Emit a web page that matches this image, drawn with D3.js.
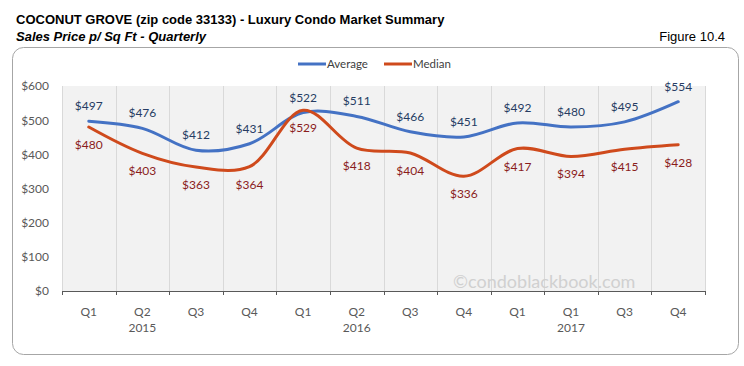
<!DOCTYPE html>
<html>
<head>
<meta charset="utf-8">
<script src="https://cdn.jsdelivr.net/npm/d3@7"></script>
<style>
  body { margin: 0; background: #fff; }
  svg { display: block; }
</style>
</head>
<body>
<div id="chart"></div>
<script>
// quarters as printed on the original chart (yes, 2017 has Q1 twice)
var quarters = ['Q1', 'Q2', 'Q3', 'Q4', 'Q1', 'Q2', 'Q3', 'Q4', 'Q1', 'Q1', 'Q3', 'Q4'];
var years = ['2015', '2016', '2017'];
var average = [497, 476, 412, 431, 522, 511, 466, 451, 492, 480, 495, 554];
var median = [480, 403, 363, 364, 529, 418, 404, 336, 417, 394, 415, 428];
var yTicks = [0, 100, 200, 300, 400, 500, 600];

var W = 744, H = 366;
var margin = {top: 86, left: 62, right: 39, bottom: 75};
var width = W - margin.left - margin.right,
    height = H - margin.top - margin.bottom;

var labelFont = 'Lato, "Open Sans", sans-serif';

var svg = d3.select('#chart').append('svg')
    .attr('width', W)
    .attr('height', H);

// titles
svg.append('text')
    .attr('x', 16).attr('y', 24)
    .style('font', 'bold 13px "Liberation Sans", Arial, sans-serif')
    .attr('fill', '#000')
    .text('COCONUT GROVE (zip code 33133) - Luxury Condo Market Summary');

svg.append('text')
    .attr('x', 16).attr('y', 41)
    .style('font', 'italic bold 13px "Liberation Sans", Arial, sans-serif')
    .attr('fill', '#000')
    .text('Sales Price p/ Sq Ft - Quarterly');

svg.append('text')
    .attr('x', 725).attr('y', 41)
    .attr('text-anchor', 'end')
    .style('font', '13px "Liberation Sans", Arial, sans-serif')
    .attr('fill', '#000')
    .text('Figure 10.4');

// chart frame
svg.append('rect')
    .attr('x', 12.5).attr('y', 47.5)
    .attr('width', 726).attr('height', 307)
    .attr('rx', 11).attr('ry', 11)
    .attr('fill', '#fff')
    .attr('stroke', '#a6a6a6');

var g = svg.append('g')
    .attr('transform', 'translate(' + margin.left + ',' + margin.top + ')');

var x = d3.scaleBand()
    .domain(d3.range(quarters.length))
    .range([0, width])
    .paddingInner(0).paddingOuter(0);

var y = d3.scaleLinear()
    .domain([0, 600])
    .range([height, 0]);

// plot area
g.append('rect')
    .attr('width', width).attr('height', height)
    .attr('fill', '#f2f2f2');

// vertical grid at category boundaries
g.selectAll('.vgrid')
    .data(d3.range(quarters.length + 1))
  .enter().append('line')
    .attr('class', 'vgrid')
    .attr('x1', function(d) { return Math.round(d * x.step()) + 0.5; })
    .attr('x2', function(d) { return Math.round(d * x.step()) + 0.5; })
    .attr('y1', 0).attr('y2', height)
    .attr('stroke', '#d9d9d9');

// y axis labels
var yAxis = d3.axisLeft(y)
    .tickValues(yTicks)
    .tickSize(0)
    .tickPadding(13)
    .tickFormat(function(d) { return '$' + d; });

var yg = g.append('g').call(yAxis);
yg.select('.domain').remove();
yg.selectAll('text')
    .style('font', '12px ' + labelFont)
    .attr('fill', '#595959');

// watermark
g.append('text')
    .attr('x', x(9))
    .attr('y', height - 3)
    .attr('text-anchor', 'middle')
    .style('font', '18px ' + labelFont)
    .attr('fill', '#d0d0d0')
    .text('©condoblackbook.com');

// x axis line + ticks
g.append('line')
    .attr('x1', 0).attr('x2', width)
    .attr('y1', height + 0.5).attr('y2', height + 0.5)
    .attr('stroke', '#595959');

g.selectAll('.xtick')
    .data(d3.range(quarters.length + 1))
  .enter().append('line')
    .attr('class', 'xtick')
    .attr('x1', function(d) { return Math.round(d * x.step()) + 0.5; })
    .attr('x2', function(d) { return Math.round(d * x.step()) + 0.5; })
    .attr('y1', height).attr('y2', height + 4)
    .attr('stroke', '#595959');

g.selectAll('.qlab')
    .data(quarters)
  .enter().append('text')
    .attr('class', 'qlab')
    .attr('x', function(d, i) { return x(i) + x.bandwidth() / 2; })
    .attr('y', height + 25)
    .attr('text-anchor', 'middle')
    .style('font', '12px ' + labelFont)
    .attr('fill', '#595959')
    .text(function(d) { return d; });

// years sit under the second quarter of each group, like excel did it
g.selectAll('.ylab')
    .data(years)
  .enter().append('text')
    .attr('class', 'ylab')
    .attr('x', function(d, i) { return x(i * 4 + 1) + x.bandwidth() / 2; })
    .attr('y', height + 41)
    .attr('text-anchor', 'middle')
    .style('font', '12px ' + labelFont)
    .attr('fill', '#595959')
    .text(function(d) { return d; });

var line = d3.line()
    .x(function(d, i) { return x(i) + x.bandwidth() / 2; })
    .y(function(d) { return y(d); })
    .curve(d3.curveCatmullRom.alpha(0.5));

var series = [
  {name: 'Average', values: average, color: '#4472c4', text: '#263c63', dy: -11},
  {name: 'Median', values: median, color: '#cf4a1c', text: '#8a1c1c', dy: 22}
];

series.forEach(function(s) {
  g.append('path')
      .datum(s.values)
      .attr('d', line)
      .attr('fill', 'none')
      .attr('stroke', s.color)
      .attr('stroke-width', 3)
      .attr('stroke-linecap', 'round');
});

series.forEach(function(s) {
  g.selectAll('.lab-' + s.name)
      .data(s.values)
    .enter().append('text')
      .attr('class', 'lab-' + s.name)
      .attr('x', function(d, i) { return x(i) + x.bandwidth() / 2; })
      .attr('y', function(d) { return y(d) + s.dy; })
      .attr('text-anchor', 'middle')
      .style('font', '12px ' + labelFont)
      .attr('fill', s.text)
      .text(function(d) { return '$' + d; });
});

// legend
var legend = svg.selectAll('.legend')
    .data(series)
  .enter().append('g')
    .attr('class', 'legend')
    .attr('transform', function(d, i) { return 'translate(' + (298 + i * 86) + ',64)'; });

legend.append('line')
    .attr('x1', 0).attr('x2', 28)
    .attr('stroke', function(d) { return d.color; })
    .attr('stroke-width', 3);

legend.append('text')
    .attr('x', 29).attr('y', 4)
    .style('font', '11.5px ' + labelFont)
    .attr('fill', '#404040')
    .text(function(d) { return d.name; });
</script>
</body>
</html>
